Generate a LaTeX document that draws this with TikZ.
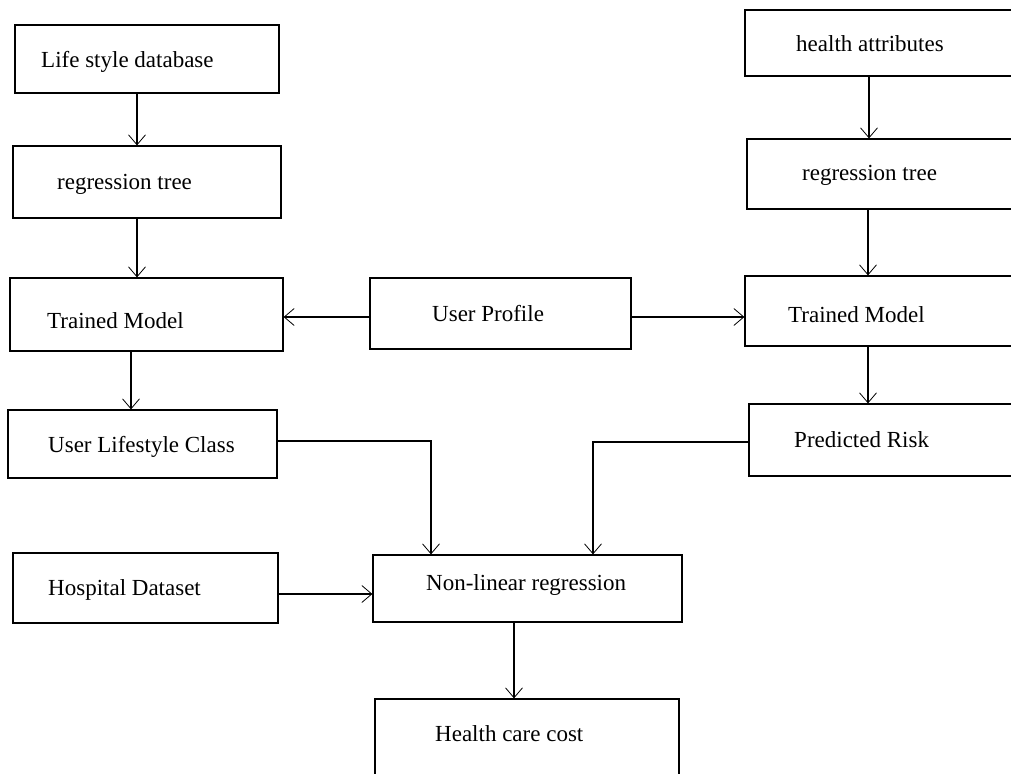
\documentclass[tikz,border=0pt]{standalone}
\usepackage{fontspec}
\setmainfont{Liberation Serif}
\usetikzlibrary{arrows.meta}
\begin{document}
\begin{tikzpicture}[x=1pt,y=-1pt,
    box/.style={draw, line width=1.2pt, inner sep=0pt},
    txt/.style={anchor=base west, inner sep=0pt, font=\fontsize{23}{27}\selectfont},
    arr/.style={line width=1.2pt, -{Straight Barb[length=10pt,width=17pt,line width=0.8pt]}}]
    \useasboundingbox (0,0) rectangle (1011,773);
    \clip (0,0) rectangle (1011,773);
    % left column
    \node[box, minimum width=264pt, minimum height=68pt] (lsdb) at (147,59) {};
    \node[box, minimum width=268pt, minimum height=72pt] (rtl) at (147,182) {};
    \node[box, minimum width=273pt, minimum height=73pt] (tml) at (146.5,314.5) {};
    \node[box, minimum width=269pt, minimum height=68pt] (ulc) at (142.5,444) {};
    \node[box, minimum width=265pt, minimum height=70pt] (hosp) at (145.5,588) {};
    % middle
    \node[box, minimum width=261pt, minimum height=71pt] (up) at (500.5,313.5) {};
    \node[box, minimum width=309pt, minimum height=67pt] (nlr) at (527.5,588.5) {};
    \node[box, minimum width=304pt, minimum height=101pt] (hcc) at (527,749.5) {};
    % right column
    \node[box, minimum width=285pt, minimum height=66pt] (ha) at (887.5,43) {};
    \node[box, minimum width=283pt, minimum height=70pt] (rtr) at (888.5,174) {};
    \node[box, minimum width=285pt, minimum height=70pt] (tmr) at (887.5,311) {};
    \node[box, minimum width=281pt, minimum height=72pt] (pr) at (889.5,440) {};
    % texts
    \node[txt] (lsdbtxt) at (41,68) {Life style database};
    \node[txt] (rtltxt) at (57,189) {regression tree};
    \node[txt] (tmltxt) at (47,328) {Trained Model};
    \node[txt] (ulctxt) at (48,452) {User Lifestyle Class};
    \node[txt] (hosptxt) at (48,595) {Hospital Dataset};
    \node[txt] (uptxt) at (432,321) {User Profile};
    \node[txt] (nlrtxt) at (426,590) {Non-linear regression};
    \node[txt] (hcctxt) at (435,741) {Health care cost};
    \node[txt] (hatxt) at (796,52) {health attributes};
    \node[txt] (rtrtxt) at (802,180) {regression tree};
    \node[txt] (tmrtxt) at (788,322) {Trained Model};
    \node[txt] (prtxt) at (794,447) {Predicted Risk};
    % arrows
    \coordinate (lsdbs) at ([xshift=-10pt]lsdb.south);
    \coordinate (rtls) at ([xshift=-10pt]rtl.south);
    \coordinate (tmls) at ([xshift=-15.5pt]tml.south);
    \coordinate (upw) at ([yshift=-3.5pt]up.west);
    \coordinate (upe) at ([yshift=-3.5pt]up.east);
    \coordinate (has) at ([xshift=-18.5pt]ha.south);
    \coordinate (rtrs) at ([xshift=-20.5pt]rtr.south);
    \coordinate (tmrs) at ([xshift=-19.5pt]tmr.south);
    \coordinate (ulce) at ([yshift=3pt]ulc.east);
    \coordinate (prw) at ([yshift=-2pt]pr.west);
    \coordinate (hospe) at ([yshift=-6pt]hosp.east);
    \coordinate (nlrs) at ([xshift=-13.5pt]nlr.south);
    \coordinate (nlrl) at ([xshift=-96.5pt]nlr.north);
    \coordinate (nlrr) at ([xshift=65.5pt]nlr.north);
    \draw[arr] (lsdbs) -- (lsdbs |- rtl.north);
    \draw[arr] (rtls) -- (rtls |- tml.north);
    \draw[arr] (tmls) -- (tmls |- ulc.north);
    \draw[arr] (upw) -- (upw -| tml.east);
    \draw[arr] (upe) -- (upe -| tmr.west);
    \draw[arr] (has) -- (has |- rtr.north);
    \draw[arr] (rtrs) -- (rtrs |- tmr.north);
    \draw[arr] (tmrs) -- (tmrs |- pr.north);
    \draw[arr] (ulce) -| (nlrl);
    \draw[arr] (prw) -| (nlrr);
    \draw[arr] (hospe) -- (hospe -| nlr.west);
    \draw[arr] (nlrs) -- (nlrs |- hcc.north);
\end{tikzpicture}
\end{document}
